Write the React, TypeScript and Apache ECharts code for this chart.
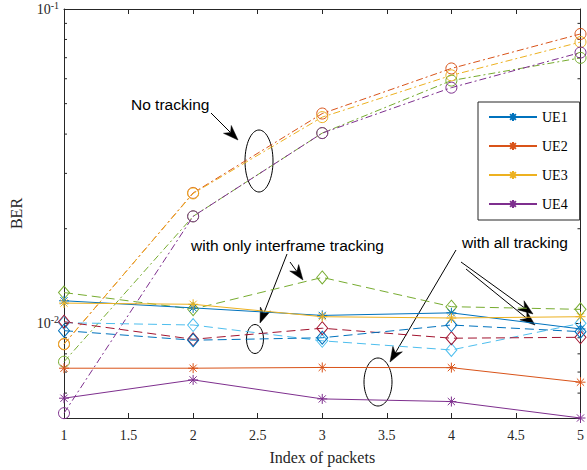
import React, { useEffect, useRef } from "react";
import * as echarts from "echarts";

// ---- data ----
const xValues = [1, 2, 3, 4, 5];
const xTicks = ["1", "1.5", "2", "2.5", "3", "3.5", "4", "4.5", "5"];
const legendNames = ["UE1", "UE2", "UE3", "UE4"];

// solid lines with asterisks (legend)
const ue1 = [0.0118, 0.0112, 0.0106, 0.0108, 0.0096];
const ue2 = [0.0072, 0.0072, 0.00724, 0.00723, 0.0065];
const ue3 = [0.0116, 0.0115, 0.0105, 0.0104, 0.0105];
const ue4 = [0.00578, 0.00661, 0.00575, 0.00564, 0.005];

// dashed lines with diamonds
const interGreen = [0.01253, 0.0111, 0.014, 0.0113, 0.01108];
const interLightBlue = [0.01005, 0.00988, 0.0088, 0.00823, 0.01];
const interDarkRed = [0.01012, 0.0089, 0.00965, 0.00897, 0.00903];
const interBlue = [0.00948, 0.00884, 0.009, 0.00988, 0.00941];

// dash-dot lines with circles (no tracking)
const noTrackOrange = [0.00858, 0.026, 0.0465, 0.0647, 0.0833];
const noTrackYellow = [0.0086, 0.0259, 0.0453, 0.0615, 0.0785];
const noTrackGreen = [0.00755, 0.0219, 0.0403, 0.0592, 0.0699];
const noTrackPurple = [0.00518, 0.0219, 0.0403, 0.0562, 0.0727];

const minorTickValues = [0.006, 0.007, 0.008, 0.009, 0.02, 0.03, 0.04, 0.05, 0.06, 0.07, 0.08, 0.09];

const C = {
  blue: "#0072BD",
  orange: "#D95319",
  yellow: "#EDB120",
  purple: "#7E2F8E",
  green: "#77AC30",
  lightBlue: "#4DBEEE",
  darkRed: "#A2142F",
  axis: "#262626",
};
const SERIF = "Liberation Serif";
const SANS = "Liberation Sans";

const STAR = "path://M0,-5L0,5M-5,0L5,0M-3.6,-3.6L3.6,3.6M-3.6,3.6L3.6,-3.6";
const DASH = [9, 5];
const DASHDOT = [7, 3, 2, 3];

function pairs(vals: number[]) {
  return vals.map((v, i) => [xValues[i], v]);
}

function lineSeries(name: string, vals: number[], color: string, kind: "solid" | "dash" | "dashdot") {
  const base: any = {
    type: "line",
    name,
    data: pairs(vals),
    clip: false,
    lineStyle: { color, width: 1, type: kind === "solid" ? "solid" : kind === "dash" ? DASH : DASHDOT },
    z: 3,
  };
  if (kind === "solid") {
    base.symbol = STAR;
    base.symbolSize = 10;
    base.itemStyle = { color, borderColor: color, borderWidth: 1 };
  } else if (kind === "dash") {
    base.symbol = "diamond";
    base.symbolSize = [11, 13];
    base.itemStyle = { color: "transparent", borderColor: color, borderWidth: 1 };
  } else {
    base.symbol = "circle";
    base.symbolSize = 11;
    base.itemStyle = { color: "transparent", borderColor: color, borderWidth: 1 };
  }
  return base;
}

function arrow(x1: number, y1: number, x2: number, y2: number, L = 15, W = 5.5) {
  const dx = x2 - x1;
  const dy = y2 - y1;
  const len = Math.sqrt(dx * dx + dy * dy);
  const ux = dx / len;
  const uy = dy / len;
  const px = -uy;
  const py = ux;
  const bx = x2 - ux * L;
  const by = y2 - uy * L;
  const nx = x2 - ux * L * 0.7;
  const ny = y2 - uy * L * 0.7;
  return [
    { type: "line", shape: { x1, y1, x2: nx, y2: ny }, style: { stroke: "#000", lineWidth: 1 } },
    {
      type: "polygon",
      shape: {
        points: [
          [x2, y2],
          [bx + px * W, by + py * W],
          [nx, ny],
          [bx - px * W, by - py * W],
        ],
      },
      style: { fill: "#000", stroke: "#000", lineWidth: 0.5 },
    },
  ];
}

function ellipse(cx: number, cy: number, rx: number, ry: number) {
  return { type: "ellipse", shape: { cx, cy, rx, ry }, style: { fill: "none", stroke: "#000", lineWidth: 1 } };
}

function label(text: string, x: number, y: number) {
  return {
    type: "text",
    x,
    y,
    style: { text, fill: "#000", fontFamily: SANS, fontSize: 15.5, verticalAlign: "middle" },
  };
}

export default function App() {
  const ref = useRef<HTMLDivElement>(null);
  useEffect(() => {
    if (!ref.current) return;
    const chart = echarts.init(ref.current, null, { renderer: "svg" });
    const yLabelFormatter = (v: number) => {
      const l = Math.log10(v);
      const e = Math.round(l);
      if (Math.abs(l - e) > 1e-6) return "";
      return `{b|10}{s|${e}}`;
    };
    const legendText = { fontFamily: SERIF, fontSize: 14, color: "#000" };
    const option: any = {
      animation: false,
      backgroundColor: "#fff",
      textStyle: { fontFamily: SERIF },
      grid: { left: 63, right: 4, top: 9, bottom: 52, containLabel: false },
      legend: {
        data: legendNames.map((n) => ({ name: n, textStyle: legendText })),
        orient: "vertical",
        left: 478,
        top: 102,
        itemWidth: 48,
        itemHeight: 10,
        itemGap: 15,
        padding: [8, 12, 9, 10],
        backgroundColor: "#fff",
        borderColor: C.axis,
        borderWidth: 1,
        textStyle: legendText,
      },
      xAxis: [
        {
          type: "value",
          min: 1,
          max: 5,
          interval: 0.5,
          name: "Index of packets",
          nameLocation: "middle",
          nameGap: 31,
          nameTextStyle: { fontFamily: SERIF, fontSize: 16, color: C.axis },
          axisLine: { lineStyle: { color: C.axis, width: 1 } },
          axisTick: { inside: true, length: 5, lineStyle: { color: C.axis } },
          axisLabel: {
            margin: 10,
            fontFamily: SERIF,
            fontSize: 14,
            color: C.axis,
            formatter: (v: number) => {
              const i = Math.round((v - 1) / 0.5);
              return xTicks[i] ?? "";
            },
          },
          splitLine: { show: false },
        },
        {
          type: "value",
          position: "top",
          min: 1,
          max: 5,
          interval: 0.5,
          axisLine: { lineStyle: { color: C.axis, width: 1 } },
          axisTick: { inside: true, length: 5, lineStyle: { color: C.axis } },
          axisLabel: { show: false },
          splitLine: { show: false },
        },
      ],
      yAxis: [
        {
          type: "log",
          logBase: 10,
          min: 0.005,
          max: 0.1,
          name: "BER",
          nameLocation: "middle",
          nameGap: 40,
          nameTextStyle: { fontFamily: SERIF, fontSize: 16, color: C.axis },
          axisLine: { lineStyle: { color: C.axis, width: 1 } },
          axisTick: { inside: true, length: 5, lineStyle: { color: C.axis } },
          axisLabel: {
            margin: 5,
            formatter: yLabelFormatter,
            rich: {
              b: { fontFamily: SERIF, fontSize: 14, color: C.axis },
              s: { fontFamily: SERIF, fontSize: 10, color: C.axis, padding: [0, 0, 8, 0] },
            },
          },
          splitLine: { show: false },
        },
        {
          type: "log",
          logBase: 10,
          position: "right",
          min: 0.005,
          max: 0.1,
          axisLine: { lineStyle: { color: C.axis, width: 1 } },
          axisTick: { inside: true, length: 5, lineStyle: { color: C.axis } },
          axisLabel: { show: false },
          splitLine: { show: false },
        },
      ],
      series: [
        {
          type: "custom",
          name: "minor",
          silent: true,
          clip: false,
          data: minorTickValues.map((v) => [1, v]),
          encode: { x: 0, y: 1 },
          renderItem: (params: any, api: any) => {
            const v = api.value(1);
            const pL = api.coord([1, v]);
            const pR = api.coord([5, v]);
            return {
              type: "group",
              children: [
                { type: "line", shape: { x1: pL[0], y1: pL[1], x2: pL[0] + 3, y2: pL[1] }, style: { stroke: C.axis, lineWidth: 1 } },
                { type: "line", shape: { x1: pR[0] - 3, y1: pR[1], x2: pR[0], y2: pR[1] }, style: { stroke: C.axis, lineWidth: 1 } },
              ],
            };
          },
        },
        lineSeries("NT-orange", noTrackOrange, C.orange, "dashdot"),
        lineSeries("NT-yellow", noTrackYellow, C.yellow, "dashdot"),
        lineSeries("NT-green", noTrackGreen, C.green, "dashdot"),
        lineSeries("NT-purple", noTrackPurple, C.purple, "dashdot"),
        lineSeries("IF-green", interGreen, C.green, "dash"),
        lineSeries("IF-lightblue", interLightBlue, C.lightBlue, "dash"),
        lineSeries("IF-darkred", interDarkRed, C.darkRed, "dash"),
        lineSeries("IF-blue", interBlue, C.blue, "dash"),
        lineSeries("UE1", ue1, C.blue, "solid"),
        lineSeries("UE2", ue2, C.orange, "solid"),
        lineSeries("UE3", ue3, C.yellow, "solid"),
        lineSeries("UE4", ue4, C.purple, "solid"),
      ],
      graphic: [
        label("No tracking", 131, 104),
        ...arrow(211, 113, 238, 140),
        ellipse(259, 161, 14, 31),
        label("with only interframe tracking", 191, 245),
        ...arrow(287, 254, 260, 323),
        ...arrow(290, 262, 303, 280),
        ellipse(255, 339, 8.5, 14.5),
        label("with all tracking", 462, 242),
        ...arrow(456, 250, 390, 362),
        ellipse(378, 382, 14, 24),
        ...arrow(461, 262, 533, 314),
        ...arrow(466, 269, 535, 325),
      ],
    };
    chart.setOption(option);
    return () => chart.dispose();
  }, []);
  return <div ref={ref} style={{ position: "fixed", left: 0, top: 0, width: 587, height: 470 }} />;
}
